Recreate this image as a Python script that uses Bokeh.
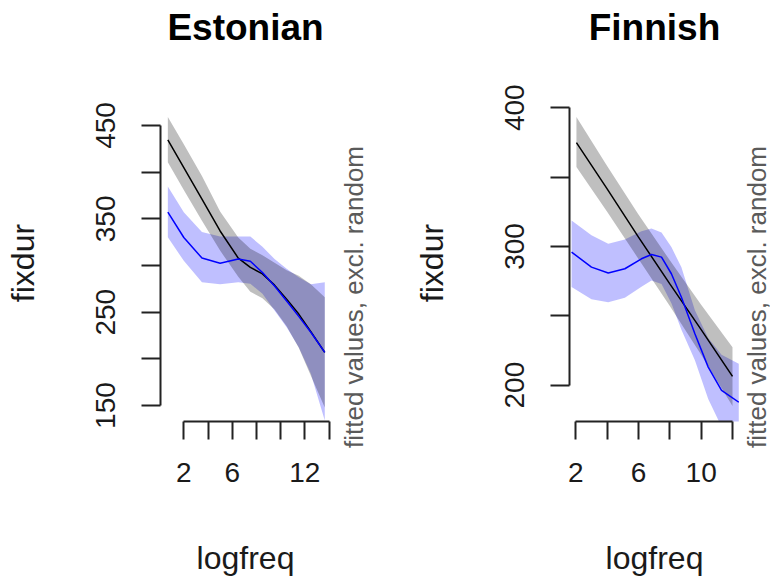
import math
from bokeh.plotting import figure
from bokeh.layouts import row
from bokeh.models import FixedTicker, LinearAxis, Range1d
from bokeh.embed import file_html
from bokeh.resources import INLINE

# ---------------- data ----------------
# Estonian panel
est_x = [0.68, 2.0, 3.5, 5.0, 6.5, 7.5, 8.5, 9.5, 10.5, 11.5, 12.5, 13.65]
est_black = [434.7, 405, 371, 337, 308, 298, 291, 279, 264, 248, 229, 207]
est_black_upper = [459, 430, 396, 358, 330, 318, 311, 303, 295, 289, 280, 266]
est_black_lower = [410.7, 381, 348, 316, 288, 272, 265, 253, 235, 212, 182, 148]
est_blue = [357.1, 330, 308, 302.5, 307, 304.5, 292.5, 278, 262, 245.5, 228.5, 207]
est_blue_upper = [384.6, 357, 336, 331, 331, 331, 320, 307, 296.5, 287.5, 280, 282]
est_blue_lower = [330.3, 305, 282, 280, 282, 280.4, 269.7, 251.8, 234, 212.5, 184, 134]
est_xticks = [2, 4, 6, 8, 10, 12, 14]
est_xlabels = ["2", "", "6", "", "", "12", ""]
est_yticks = [150, 200, 250, 300, 350, 400, 450]
est_ylabels = ["150", "", "250", "", "350", "", "450"]

# Finnish panel
fin_black_x = [2.04, 4.0, 6.0, 8.0, 10.0, 12.0]
fin_black = [374.8, 341.5, 306.7, 273, 240, 206.3]
fin_black_upper = [393.2, 358, 323, 290, 258, 227.4]
fin_black_lower = [357.2, 325, 291, 257, 222, 185]
fin_blue_x = [1.73, 3.0, 4.07, 5.13, 6.19, 6.83, 7.47, 8.1, 8.74, 9.6, 10.45, 11.3, 12.4]
fin_blue = [295.9, 285.1, 280.8, 283.9, 291.1, 294.2, 292.3, 280.3, 263.4, 237.1, 213, 196.2, 187.7]
fin_blue_upper = [318.7, 308, 302, 305, 311, 313, 310, 299.5, 285, 254, 234, 222, 215.4]
fin_blue_lower = [270.7, 262, 259.8, 263, 271, 275.5, 273, 259, 240, 218, 190, 170, 160]
fin_xticks = [2, 4, 6, 8, 10, 12]
fin_xlabels = ["2", "", "6", "", "10", ""]
fin_yticks = [200, 250, 300, 350, 400]
fin_ylabels = ["200", "", "300", "", "400"]

side_text = "fitted values, excl. random"

FONT = "Liberation Sans"
TXT = "#1a1a1a"
SIDE_COLOR = "#5a5a5a"
FRAME_W, FRAME_H = 170, 317
TOP, TOTAL_H = 104, 578


def panel(title, xr, yr, xticks, xlabels, yticks, ylabels,
          bx, b, bu, bl, ux, u, uu, ul,
          border_left, border_right):
    p = figure(output_backend="svg", toolbar_location=None,
               frame_width=FRAME_W, frame_height=FRAME_H,
               min_border_left=border_left, min_border_right=border_right,
               min_border_top=TOP, min_border_bottom=TOTAL_H - TOP - FRAME_H,
               x_range=Range1d(*xr), y_range=Range1d(*yr))
    p.outline_line_color = None
    p.grid.visible = False
    p.background_fill_color = "white"
    p.border_fill_color = "white"

    xa = p.below[0]
    ya = p.left[0]

    # invisible spacer (white tick, empty label) between the frame and the title
    sx = xticks[len(xticks) // 2]
    spacer = LinearAxis(ticker=FixedTicker(ticks=[sx]),
                        major_label_overrides={sx: ""},
                        axis_line_color=None,
                        major_tick_line_color="white", major_tick_line_width=1,
                        minor_tick_line_color=None,
                        major_tick_out=54, minor_tick_out=0, major_tick_in=0,
                        major_label_standoff=0, major_label_text_font_size="1px")
    p.add_layout(spacer, "above")

    p.title.text = title
    p.title.align = "center"
    p.title.text_font = FONT
    p.title.text_font_size = "37px"
    p.title.text_font_style = "bold"
    p.title.text_color = "black"
    p.title.standoff = 6

    # bands then lines
    p.varea(x=ux, y1=ul, y2=uu, fill_color="blue", fill_alpha=0.25)
    p.varea(x=bx, y1=bl, y2=bu, fill_color="black", fill_alpha=0.25)
    p.line(bx, b, line_color="black", line_width=1.5)
    p.line(ux, u, line_color="#0000ff", line_width=1.5)

    for ax, ticks, labels, tick_out, standoff, lab, lab_standoff in (
            (xa, xticks, xlabels, 18, 23, "logfreq", 55),
            (ya, yticks, ylabels, 19, 26, "fixdur", 53)):
        ax.ticker = FixedTicker(ticks=ticks)
        ax.major_label_overrides = dict(zip(ticks, labels))
        ax.bounds = (ticks[0], ticks[-1])
        ax.axis_line_color = "#222222"
        ax.axis_line_width = 2
        ax.major_tick_line_color = "#222222"
        ax.major_tick_line_width = 2
        ax.major_tick_out = tick_out
        ax.major_tick_in = 0
        ax.minor_tick_line_color = None
        ax.major_label_text_font = FONT
        ax.major_label_text_font_size = "28px"
        ax.major_label_text_color = TXT
        ax.major_label_standoff = standoff
        ax.axis_label = lab
        ax.axis_label_text_font = FONT
        ax.axis_label_text_font_size = "32px"
        ax.axis_label_text_font_style = "normal"
        ax.axis_label_text_color = TXT
        ax.axis_label_standoff = lab_standoff
    ya.major_label_orientation = "vertical"
    return p


def side_strip(text):
    # narrow strip carrying the rotated side annotation of the panel on its left
    frame_h = 385
    s = figure(output_backend="svg", toolbar_location=None,
               frame_width=1, frame_height=frame_h,
               min_border_left=0, min_border_right=0,
               min_border_top=TOP, min_border_bottom=TOTAL_H - TOP - frame_h,
               x_axis_type=None, y_axis_type=None,
               title=text, title_location="left")
    s.outline_line_color = None
    s.grid.visible = False
    s.title.align = "center"
    s.title.text_font = FONT
    s.title.text_font_size = "26px"
    s.title.text_font_style = "normal"
    s.title.text_color = SIDE_COLOR
    s.title.standoff = 0
    return s


p1 = panel("Estonian", (0.074, 0.074 + FRAME_W / 12.1), (132.9, 472.5),
           est_xticks, est_xlabels, est_yticks, est_ylabels,
           est_x, est_black, est_black_upper, est_black_lower,
           est_x, est_blue, est_blue_upper, est_blue_lower,
           160, 6)
p2 = panel("Finnish", (1.598, 1.598 + FRAME_W / 15.67), (173.8, 402.3),
           fin_xticks, fin_xlabels, fin_yticks, fin_ylabels,
           fin_black_x, fin_black, fin_black_upper, fin_black_lower,
           fin_blue_x, fin_blue, fin_blue_upper, fin_blue_lower,
           200, 0)

layout = row(p1, side_strip(side_text), p2, side_strip(side_text))
open("out.html", "w").write(file_html(layout, INLINE))
